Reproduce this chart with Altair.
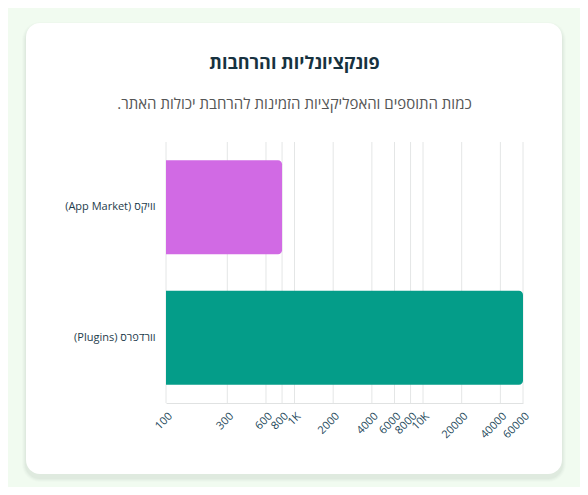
import altair as alt
import pandas as pd

"""
가로 막대 그래프 (로그 스케일) + 카드 배경
"""
#데이터
platforms = ['(App Market) וויקס', '(Plugins) וורדפרס']
counts = [800, 60000]
tick_values = [100, 300, 600, 800, 1000, 2000, 4000, 6000, 8000, 10000, 20000, 40000, 60000]

title_text = 'פונקציונליות והרחבות'
subtitle_text = '.כמות התוספים והאפליקציות הזמינות להרחבת יכולות האתר'

source = pd.DataFrame({'platform': platforms, 'count': counts})
ticks = pd.DataFrame({'count': tick_values})
card = pd.DataFrame({'k': [0]})

FONT = 'Open Sans'
x_scale = alt.Scale(type='log', domain=[100, 60000], nice=False)

#카드 그림자 + 카드
shadows = []
for i, op in enumerate([0.025, 0.03, 0.035, 0.04]):
    grow = 4 - i
    shadows.append(
        alt.Chart(card).mark_rect(cornerRadius=14 + grow, color='#6b7f70', opacity=op).encode(
            x=alt.value(-140 - grow), x2=alt.value(396 + grow),
            y=alt.value(-119 - grow + 3), y2=alt.value(332 + grow + 4),
        )
    )
card_rect = alt.Chart(card).mark_rect(cornerRadius=14, color='white').encode(
    x=alt.value(-140), x2=alt.value(396),
    y=alt.value(-119), y2=alt.value(332),
)

#그리드
grid = alt.Chart(ticks).mark_rule(color='#e4e6e6', strokeWidth=1).encode(
    x=alt.X('count:Q', scale=x_scale, title=''),
)

#막대
bars = alt.Chart(source).mark_bar(cornerRadiusEnd=4).encode(
    x=alt.X('count:Q', scale=x_scale, title='', stack=False,
            axis=alt.Axis(values=tick_values, labelAngle=-45, grid=False, ticks=False,
                          labelOverlap=False, labelBound=False,
                          domainColor='#e0e2e2', labelPadding=7, labelFontSize=11,
                          labelColor='#24485a', labelFont=FONT, zindex=1,
                          labelExpr="datum.value == 1000 ? '1K' : datum.value == 10000 ? '10K' : datum.value")),
    y=alt.Y('platform:N', sort=platforms, title='',
            scale=alt.Scale(paddingInner=0.28, paddingOuter=0.14),
            axis=alt.Axis(ticks=False, domain=False, labelPadding=11, labelFontSize=11,
                          labelColor='#1e3c4c', labelFont=FONT, zindex=1)),
    color=alt.Color('platform:N', legend=None,
                    scale=alt.Scale(domain=platforms, range=['#d16ae4', '#049d89'])),
)

#합성
chart = alt.layer(*shadows, card_rect, grid, bars).properties(
    width=357,
    height=261,
    background='#f1fbf0',
    autosize=alt.AutoSizeParams(type='none'),
    padding={'left': 158, 'top': 134, 'right': 57, 'bottom': 84},
    title=alt.TitleParams(
        text=title_text, subtitle=subtitle_text, anchor='middle', dx=-50,
        font=FONT, fontSize=18, fontWeight='bold', color='#17323f',
        subtitleFont=FONT, subtitleFontSize=15, subtitleColor='#555555',
        subtitlePadding=24, offset=-90,
    ),
).configure_view(stroke=None)

chart.save('out.html', embed_options={'renderer': 'svg', 'actions': False})
